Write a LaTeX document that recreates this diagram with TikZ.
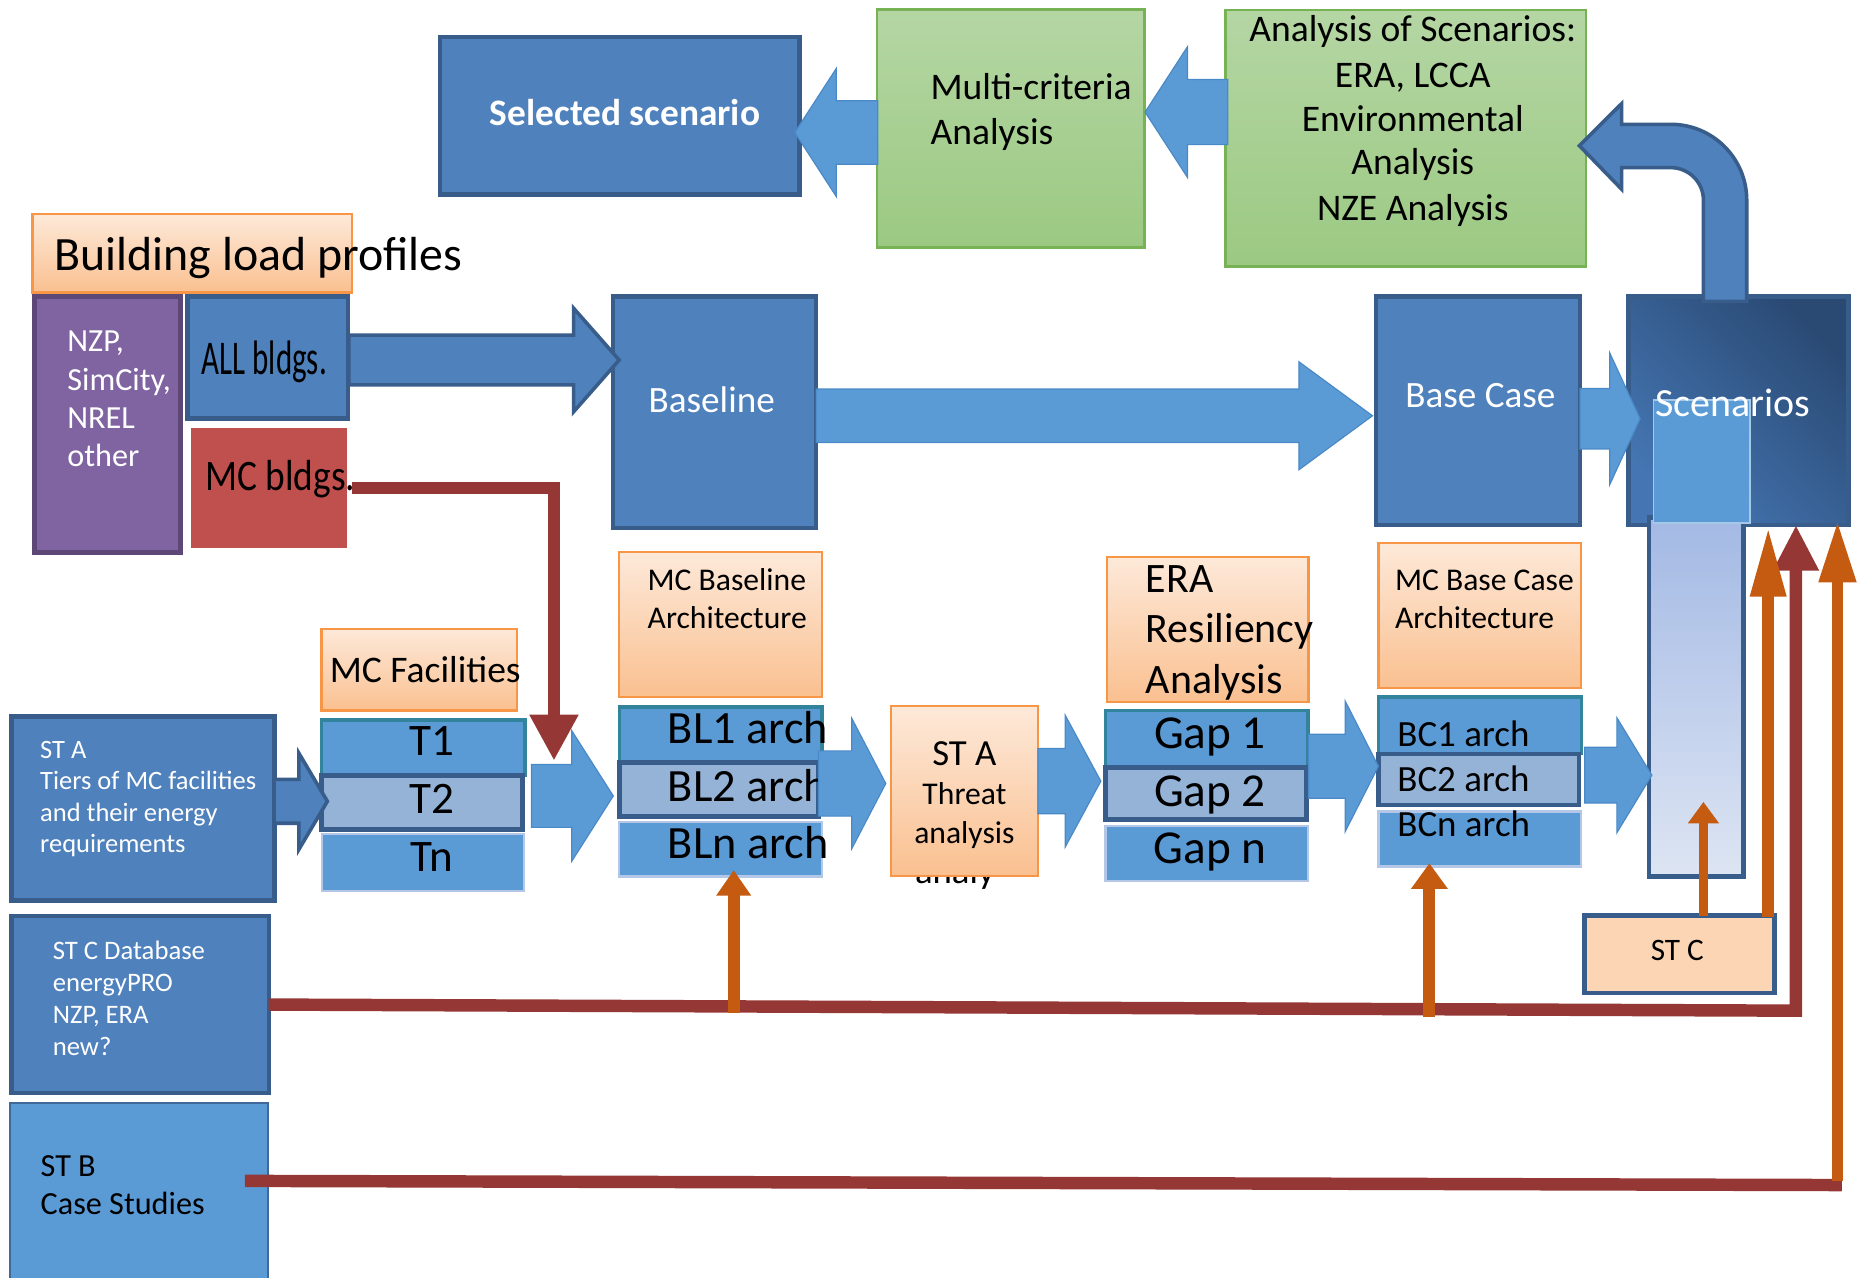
\documentclass[tikz,border=0pt]{standalone}
\usepackage{fontspec}
\usepackage{graphicx}
\setmainfont{Carlito}
\usetikzlibrary{arrows.meta}
\definecolor{bm}{HTML}{4F81BD}
\definecolor{bmd}{HTML}{385D8A}
\definecolor{lb}{HTML}{5B9BD5}
\definecolor{lbd}{HTML}{4A89C8}
\definecolor{gb}{HTML}{95B3D7}
\definecolor{tealb}{HTML}{31849B}
\definecolor{pale}{HTML}{B4C7E7}
\definecolor{orT}{HTML}{FDE9D9}
\definecolor{orB}{HTML}{FAC090}
\definecolor{orD}{HTML}{F79646}
\definecolor{grT}{HTML}{B5D6A4}
\definecolor{grB}{HTML}{9BC982}
\definecolor{grD}{HTML}{77B255}
\definecolor{pu}{HTML}{8064A2}
\definecolor{puD}{HTML}{5C4776}
\definecolor{rd}{HTML}{C0504D}
\definecolor{dr}{HTML}{953735}
\definecolor{og}{HTML}{C55A11}
\definecolor{scD}{HTML}{2A4A74}
\definecolor{scL}{HTML}{4576B3}
\definecolor{coT}{HTML}{A3B9E4}
\definecolor{coB}{HTML}{DDE5F3}
\definecolor{stcf}{HTML}{FCD5B5}
\newcommand{\fz}[1]{\fontsize{#1}{#1}\selectfont}
\newcommand{\bx}[6]{\node[#2, anchor=north west, inner sep=0pt, outer sep=0pt, minimum width={(#5-#3)*0.6pt}, minimum height={(#6-#4)*0.6pt}] (#1) at (#3,#4) {};}
\newcommand{\barrowH}[7]{\path[#1] (#2,#5-#6) -- (#3,#5-#6) -- (#3,#5-#7) -- (#4,#5) -- (#3,#5+#7) -- (#3,#5+#6) -- (#2,#5+#6) -- cycle;}
\tikzset{
 bmbox/.style={fill=bm, draw=bmd, line width=2.2pt},
 grbox/.style={top color=grT, bottom color=grB, draw=grD, line width=1.2pt},
 orbox/.style={top color=orT, bottom color=orB, draw=orD, line width=1.2pt},
 pubox/.style={fill=pu, draw=puD, line width=2.4pt},
 rdbox/.style={fill=rd},
 scbox/.style={top color=scD, bottom color=scL, shading angle=-45, draw=bmd, line width=2.2pt},
 colbox/.style={top color=coT, bottom color=coB, draw=bmd, line width=2.4pt},
 innerbox/.style={fill=lb, draw=lb!55!white, line width=0.8pt},
 stbbox/.style={fill=lb, draw=bmd!80!lb, line width=1pt},
 tealbox/.style={fill=lb, draw=tealb, line width=1.6pt},
 darkbox/.style={fill=gb, draw=bmd, line width=2.4pt},
 palebox/.style={fill=lb, draw=pale, line width=1.2pt},
 stcbox/.style={fill=stcf, draw=bmd, line width=2.4pt},
 bmarrow/.style={fill=bm, draw=bmd, line width=1.8pt, line join=miter},
 lbarrow/.style={fill=lb, draw=lbd, line width=0.6pt, line join=miter},
 drl/.style={draw=dr, line width=6.3pt, line join=miter},
 ogl/.style={draw=og, line width=6pt},
 tl/.style={anchor=base west, inner sep=0pt, outer sep=0pt},
 tc/.style={anchor=base, inner sep=0pt, outer sep=0pt},
}
\begin{document}
\begin{tikzpicture}[x=0.6pt,y=-0.6pt]
\useasboundingbox (0,0) rectangle (1568,1077);
\clip (0,0) rectangle (1568,1077);
\fill[white] (0,0) rectangle (1568,1077);
% top row
\bx{sel}{bmbox}{371}{31}{674}{164}
\bx{multi}{grbox}{739.4}{7.9}{964.9}{208.5}
\bx{anal}{grbox}{1033.2}{8.4}{1336.9}{224.8}
\node[tc, font=\bfseries\fz{18.9pt}, text=white] (selT) at (527,106) {Selected scenario};
\node[tl, font=\fz{19pt}] (mu1) at (784.5,84.3) {Multi-criteria};
\node[tl, font=\fz{19pt}] (mu2) at (784.5,121.4) {Analysis};
\node[tc, font=\fz{19pt}] (an1) at (1191,35.1) {Analysis of Scenarios:};
\node[tc, font=\fz{19pt}] (an2) at (1191,73.6) {ERA, LCCA};
\node[tc, font=\fz{19pt}] (an3) at (1191,111) {Environmental};
\node[tc, font=\fz{19pt}] (an4) at (1191,147.5) {Analysis};
\node[tc, font=\fz{19pt}] (an5) at (1191,185.5) {NZE Analysis};
% building load profiles
\bx{blp}{orbox}{27.5}{180.4}{296.6}{246.7}
\node[tl, font=\fz{24.2pt}] (blpT) at (46,228) {Building load profiles};
\bx{purp}{pubox}{29}{250}{152.4}{465.6}
\node[tl, font=\fz{16.3pt}, text=white] (pu1) at (56.8,296.5) {NZP,};
\node[tl, font=\fz{16.3pt}, text=white] (pu2) at (56.8,328.8) {SimCity,};
\node[tl, font=\fz{16.3pt}, text=white] (pu3) at (56.8,361) {NREL};
\node[tl, font=\fz{16.3pt}, text=white] (pu4) at (56.8,393.4) {other};
\bx{all}{bmbox}{158}{250}{293.5}{352.7}
\node[tl, font=\fz{24.5pt}] (allT) at (170,316.1) {\scalebox{0.64}[1]{ALL bldgs.}};
\bx{mcb}{rdbox}{160.7}{360.5}{292.8}{462.3}
% middle row
\bx{base}{bmbox}{517}{250}{688}{445}
\node[tc, font=\fz{18.8pt}, text=white] (baseT) at (600,348) {Baseline};
\bx{bcase}{bmbox}{1160}{250}{1332}{442.6}
\node[tc, font=\fz{18.8pt}, text=white] (bcaseT) at (1248,343.3) {Base Case};
\bx{scen}{scbox}{1372.8}{249.9}{1558.2}{442.6}
\bx{col}{colbox}{1390}{436}{1470}{739}
\bx{inner}{innerbox}{1394}{337}{1475}{441}
\node[tc, font=\fz{20.2pt}, text=white] (scenT) at (1461,350.7) {Scenarios};
% left column
\bx{sta}{bmbox}{9.7}{604}{231.3}{759}
\node[tl, font=\fz{13.4pt}, text=white] (sta1) at (33.9,639.2) {ST A};
\node[tl, font=\fz{13.4pt}, text=white] (sta2) at (33.9,665.5) {Tiers of MC facilities};
\node[tl, font=\fz{13.4pt}, text=white] (sta3) at (33.9,692.5) {and their energy};
\node[tl, font=\fz{13.4pt}, text=white] (sta4) at (33.9,718.9) {requirements};
\bx{stcdb}{bmbox}{9.7}{772.2}{226.5}{921.5}
\node[tl, font=\fz{13.5pt}, text=white] (db1) at (44.5,808.9) {ST C Database};
\node[tl, font=\fz{13.5pt}, text=white] (db2) at (44.5,835.9) {energyPRO};
\node[tl, font=\fz{13.5pt}, text=white] (db3) at (44.5,862.5) {NZP, ERA};
\node[tl, font=\fz{13.5pt}, text=white] (db4) at (44.5,889.4) {new?};
\bx{stb}{stbbox}{8.4}{929.6}{225.7}{1100}
\node[tl, font=\fz{16.3pt}] (stb1) at (34.3,992) {ST B};
\node[tl, font=\fz{16.3pt}] (stb2) at (34.3,1023.5) {Case Studies};
% tiers
\bx{mcfac}{orbox}{271}{530}{435.6}{599}
\node[tl, font=\fz{19pt}] (mcfacT) at (278,575) {MC Facilities};
\bx{t1}{tealbox}{271}{607}{442.6}{654}
\bx{t2}{darkbox}{271}{654}{440.6}{699}
\bx{tn}{palebox}{271.7}{703}{441.8}{751}
\node[tc, font=\fz{22.8pt}] (t1T) at (364,637) {T1};
\node[tc, font=\fz{22.8pt}] (t2T) at (364,685.7) {T2};
\node[tc, font=\fz{22.8pt}] (tnT) at (364,734.9) {Tn};
% baseline architecture
\bx{mcba}{orbox}{522}{465.6}{693}{587.7}
\node[tl, font=\fz{16pt}] (mcba1) at (546,497.4) {MC Baseline};
\node[tl, font=\fz{16pt}] (mcba2) at (546,529.7) {Architecture};
\bx{bl1}{tealbox}{522}{596}{693}{642}
\bx{bl2}{darkbox}{522}{643}{690}{688}
\bx{bln}{palebox}{522}{693}{693}{739}
\node[tl, font=\fz{23.4pt}] (bl1T) at (563,626.7) {BL1 arch};
\node[tl, font=\fz{23.4pt}] (bl2T) at (563,675.8) {BL2 arch};
\node[tl, font=\fz{23.4pt}] (blnT) at (563,723.6) {BLn arch};
% threat
\node[tl, font=\fz{18.6pt}] (hid) at (771.4,744.7) {analy};
\bx{threat}{orbox}{751}{595}{875}{738.5}
\node[tc, font=\fz{18.6pt}] (th1) at (813,644.9) {ST A};
\node[tc, font=\fz{16pt}] (th2) at (813,678.6) {Threat};
\node[tc, font=\fz{16pt}] (th3) at (813,711) {analysis};
% ERA
\bx{era}{orbox}{933}{469.5}{1103}{592}
\node[tl, font=\fz{21.2pt}] (era1) at (966,499.6) {ERA};
\node[tl, font=\fz{21.2pt}] (era2) at (966,541.8) {Resiliency};
\node[tl, font=\fz{21.2pt}] (era3) at (966,584.5) {Analysis};
\bx{gap1}{tealbox}{932}{599}{1102.6}{646}
\bx{gap2}{darkbox}{932}{647}{1101.5}{691}
\bx{gapn}{palebox}{932}{696.3}{1102.6}{742.5}
\node[tc, font=\fz{23.9pt}] (g1T) at (1020,630.9) {Gap 1};
\node[tc, font=\fz{23.9pt}] (g2T) at (1020,680) {Gap 2};
\node[tc, font=\fz{23.9pt}] (gnT) at (1020,727.8) {Gap n};
% base case architecture
\bx{mcbc}{orbox}{1162}{457.5}{1333}{580}
\node[tl, font=\fz{16pt}] (mcbc1) at (1176,497.4) {MC Base Case};
\node[tl, font=\fz{16pt}] (mcbc2) at (1176,529.7) {Architecture};
\bx{bc1}{tealbox}{1162}{587.6}{1333}{635}
\bx{bc2}{darkbox}{1162}{635.6}{1331}{678.6}
\bx{bcn}{palebox}{1162}{684}{1333}{730.6}
\node[tl, font=\fz{18.7pt}] (bc1T) at (1178,629.5) {BC1 arch};
\node[tl, font=\fz{18.7pt}] (bc2T) at (1178,667.4) {BC2 arch};
\node[tl, font=\fz{18.7pt}] (bcnT) at (1178,704.8) {BCn arch};
% ST C
\bx{stcb}{stcbox}{1336}{772}{1496}{837}
\node[tc, font=\fz{15.8pt}] (stcT) at (1414,809.3) {ST C};
% block arrows
\barrowH{lbarrow}{740}{705}{670}{111.7}{26.7}{54}
\barrowH{lbarrow}{1035}{1001}{965.3}{94.5}{27.4}{55}
\barrowH{bmarrow}{294}{483.5}{522}{303.5}{21}{43.7}
\barrowH{lbarrow}{688}{1095}{1157}{350.5}{22.5}{45.5}
\barrowH{lbarrow}{1332}{1357}{1382.6}{353}{25.5}{55.5}
\barrowH{bmarrow}{231}{252}{276}{675.5}{18.5}{40.5}
\barrowH{lbarrow}{448}{482}{517}{671}{26.5}{55}
\barrowH{lbarrow}{690}{718}{746.7}{660.5}{27.5}{55}
\barrowH{lbarrow}{875}{898}{928}{658.5}{27.5}{55.5}
\barrowH{lbarrow}{1103}{1134}{1162}{646}{27}{55}
\barrowH{lbarrow}{1336}{1363}{1392.5}{653.5}{23.5}{48.5}
% U-turn arrow from Scenarios to Analysis of Scenarios
\path[bmarrow] (1331.4,122.8) -- (1367.1,87.3) -- (1367.1,104.8) -- (1408.5,104.8)
  arc[start angle=-90, end angle=0, radius=64] -- (1472.5,254) -- (1436,254) -- (1436,168.8)
  arc[start angle=0, end angle=-90, radius=27.5] -- (1367.1,141.3) -- (1367.1,159.6) -- cycle;
% connectors
\coordinate (rtip) at (467,641.3);
\draw[drl, -{Triangle[width=23.2pt,length=23.3pt]}] ([xshift=2.4pt]mcb.east) -| (rtip);
\node[tl, font=\fz{22pt}] (mcbT) at (173,413.6) {\scalebox{0.86}[1]{MC bldgs.}};
\coordinate (c1) at (1514,852);
\coordinate (c1t) at (1514,442.6);
\draw[drl, -{Triangle[width=21.6pt,length=23pt]}] (stcdb.east) -- (c1) -- (c1t);
\coordinate (b0) at (206.5,995.5);
\coordinate (b1) at (1552.6,999);
\draw[drl] (b0) -- (b1);
\coordinate (o4s) at (1549,996);
\coordinate (o4t) at (1549,438.6);
\draw[ogl, -{Triangle[width=17.5pt,length=31.4pt]}] (o4s) -- (o4t);
\coordinate (o3s) at (1490.6,772.8);
\coordinate (o3t) at (1490.6,444);
\draw[ogl, -{Triangle[width=16.8pt,length=35.4pt]}] (o3s) -- (o3t);
\coordinate (o2s) at (1436,772);
\coordinate (o2t) at (1436,676);
\draw[ogl, line width=5pt, -{Triangle[width=15pt,length=10.8pt]}] (o2s) -- (o2t);
\coordinate (o1s) at (618.5,853.8);
\coordinate (o1t) at (618.5,733.5);
\draw[ogl, -{Triangle[width=16.8pt,length=12.9pt]}] (o1s) -- (o1t);
\coordinate (o5s) at (1205,857);
\coordinate (o5t) at (1205,727.7);
\draw[ogl, -{Triangle[width=17.8pt,length=13pt]}] (o5s) -- (o5t);
\end{tikzpicture}
\end{document}
